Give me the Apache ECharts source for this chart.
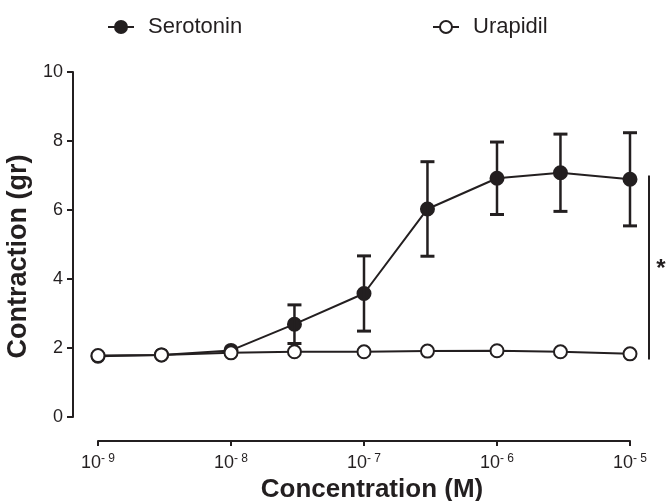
<!DOCTYPE html>
<html>
<head>
<meta charset="utf-8">
<script src="https://cdn.jsdelivr.net/npm/echarts@6/dist/echarts.min.js"></script>
<style>
  html, body { margin: 0; padding: 0; background: #fff; }
  #chart { width: 667px; height: 501px; }
</style>
</head>
<body>
<div id="chart"></div>
<script>
// Concentration-response: contraction (gr) vs agonist concentration (M)
const concentrations = [1e-9, 3e-9, 1e-8, 3e-8, 1e-7, 3e-7, 1e-6, 3e-6, 1e-5];
const serotoninMean  = [1.76, 1.80, 1.93, 2.69, 3.58, 6.03, 6.92, 7.08, 6.89];
const serotoninSem   = [0, 0, 0, 0.56, 1.09, 1.37, 1.05, 1.12, 1.35];
const urapidilMean   = [1.78, 1.80, 1.86, 1.89, 1.89, 1.91, 1.92, 1.89, 1.83];
const xExponents     = [-9, -8, -7, -6, -5];
const yTicks         = [0, 2, 4, 6, 8, 10];
const sigSpan        = [1.67, 7.0];   // extent of the significance bar (gr)

const INK = '#231f20';
const FONT = 'Liberation Sans';

function decadeLabel(v) {
  const e = Math.round(Math.log10(v));
  return '{b|10}{s|' + (e < 0 ? '- ' + (-e) : String(e)) + '}';
}

function renderErrorBar(params, api) {
  const x = api.value(0), m = api.value(1), s = api.value(2);
  if (!s) return null;
  const top = api.coord([x, m + s]);
  const bot = api.coord([x, m - s]);
  const hw = 7;
  const stem = { stroke: INK, lineWidth: 2.5 };
  const cap = { stroke: INK, lineWidth: 3 };
  return {
    type: 'group',
    children: [
      { type: 'line', shape: { x1: top[0], y1: top[1], x2: bot[0], y2: bot[1] }, style: stem },
      { type: 'line', shape: { x1: top[0] - hw, y1: top[1], x2: top[0] + hw, y2: top[1] }, style: cap },
      { type: 'line', shape: { x1: bot[0] - hw, y1: bot[1], x2: bot[0] + hw, y2: bot[1] }, style: cap }
    ]
  };
}

function renderSigBar(params, api) {
  const x = api.value(0);
  const lo = api.coord([x, api.value(1)]);
  const hi = api.coord([x, api.value(2)]);
  const bx = lo[0] + 19;
  return {
    type: 'group',
    children: [
      { type: 'line', shape: { x1: bx, y1: lo[1], x2: bx, y2: hi[1] }, style: { stroke: INK, lineWidth: 2 } },
      { type: 'text', style: { text: '*', x: bx + 12, y: (lo[1] + hi[1]) / 2 + 2, fill: INK,
          font: 'bold 24px ' + FONT, align: 'center', verticalAlign: 'middle' } }
    ]
  };
}

const legendText = { fontSize: 22, color: INK, fontFamily: FONT, padding: [0, 0, 0, 9] };

const option = {
  animation: false,
  backgroundColor: '#fff',
  textStyle: { fontFamily: FONT, color: INK },
  grid: { left: 98, right: 37, top: 72, bottom: 84, outerBoundsMode: 'none', containLabel: false },
  legend: [
    { data: ['Serotonin'], left: 102, top: 11, itemWidth: 26, itemHeight: 15, textStyle: legendText },
    { data: ['Urapidil'], left: 427, top: 11, itemWidth: 26, itemHeight: 15, textStyle: legendText }
  ],
  xAxis: {
    type: 'log',
    logBase: 10,
    min: Math.pow(10, xExponents[0]),
    max: Math.pow(10, xExponents[xExponents.length - 1]),
    splitNumber: xExponents.length - 1,
    offset: 24,
    name: 'Concentration (M)',
    nameLocation: 'middle',
    nameGap: 30,
    nameTextStyle: { fontSize: 26, fontWeight: 'bold', color: INK, fontFamily: FONT, padding: [0, 0, 0, 16] },
    axisLine: { show: true, onZero: false, lineStyle: { color: INK, width: 2 } },
    axisTick: { show: true, length: 5, lineStyle: { color: INK, width: 2 } },
    minorTick: { show: false },
    splitLine: { show: false },
    axisLabel: {
      margin: 12,
      formatter: decadeLabel,
      rich: {
        b: { fontSize: 18, color: INK, fontFamily: FONT, lineHeight: 20 },
        s: { fontSize: 12, color: INK, fontFamily: FONT, verticalAlign: 'top', lineHeight: 12 }
      }
    }
  },
  yAxis: {
    type: 'value',
    min: yTicks[0],
    max: yTicks[yTicks.length - 1],
    interval: yTicks[1] - yTicks[0],
    offset: 25,
    name: 'Contraction (gr)',
    nameLocation: 'middle',
    nameRotate: 90,
    nameGap: 34,
    nameTextStyle: { fontSize: 27, fontWeight: 'bold', color: INK, fontFamily: FONT, padding: [0, 24, 0, 0] },
    axisLine: { show: true, onZero: false, lineStyle: { color: INK, width: 2 } },
    axisTick: { show: true, length: 6, lineStyle: { color: INK, width: 2 } },
    splitLine: { show: false },
    axisLabel: { fontSize: 18, color: INK, fontFamily: FONT, margin: 10 }
  },
  series: [
    {
      name: 'Serotonin',
      type: 'line',
      data: concentrations.map((c, i) => [c, serotoninMean[i]]),
      symbol: 'circle',
      symbolSize: 13,
      itemStyle: { color: INK, borderColor: INK, borderWidth: 2 },
      lineStyle: { color: INK, width: 2 },
      z: 3
    },
    {
      name: 'Serotonin SEM',
      type: 'custom',
      data: concentrations.map((c, i) => [c, serotoninMean[i], serotoninSem[i]]),
      encode: { x: 0, y: 1 },
      renderItem: renderErrorBar,
      z: 4,
      silent: true
    },
    {
      name: 'Urapidil',
      type: 'line',
      data: concentrations.map((c, i) => [c, urapidilMean[i]]),
      symbol: 'circle',
      symbolSize: 13,
      itemStyle: { color: '#fff', borderColor: INK, borderWidth: 2 },
      lineStyle: { color: INK, width: 2 },
      z: 5
    },
    {
      name: 'significance',
      type: 'custom',
      data: [[concentrations[concentrations.length - 1], sigSpan[0], sigSpan[1]]],
      encode: { x: 0, y: [1, 2] },
      renderItem: renderSigBar,
      clip: false,
      z: 6,
      silent: true
    }
  ]
};

const chart = echarts.init(document.getElementById('chart'), null, { renderer: 'canvas' });
chart.setOption(option);
</script>
</body>
</html>
